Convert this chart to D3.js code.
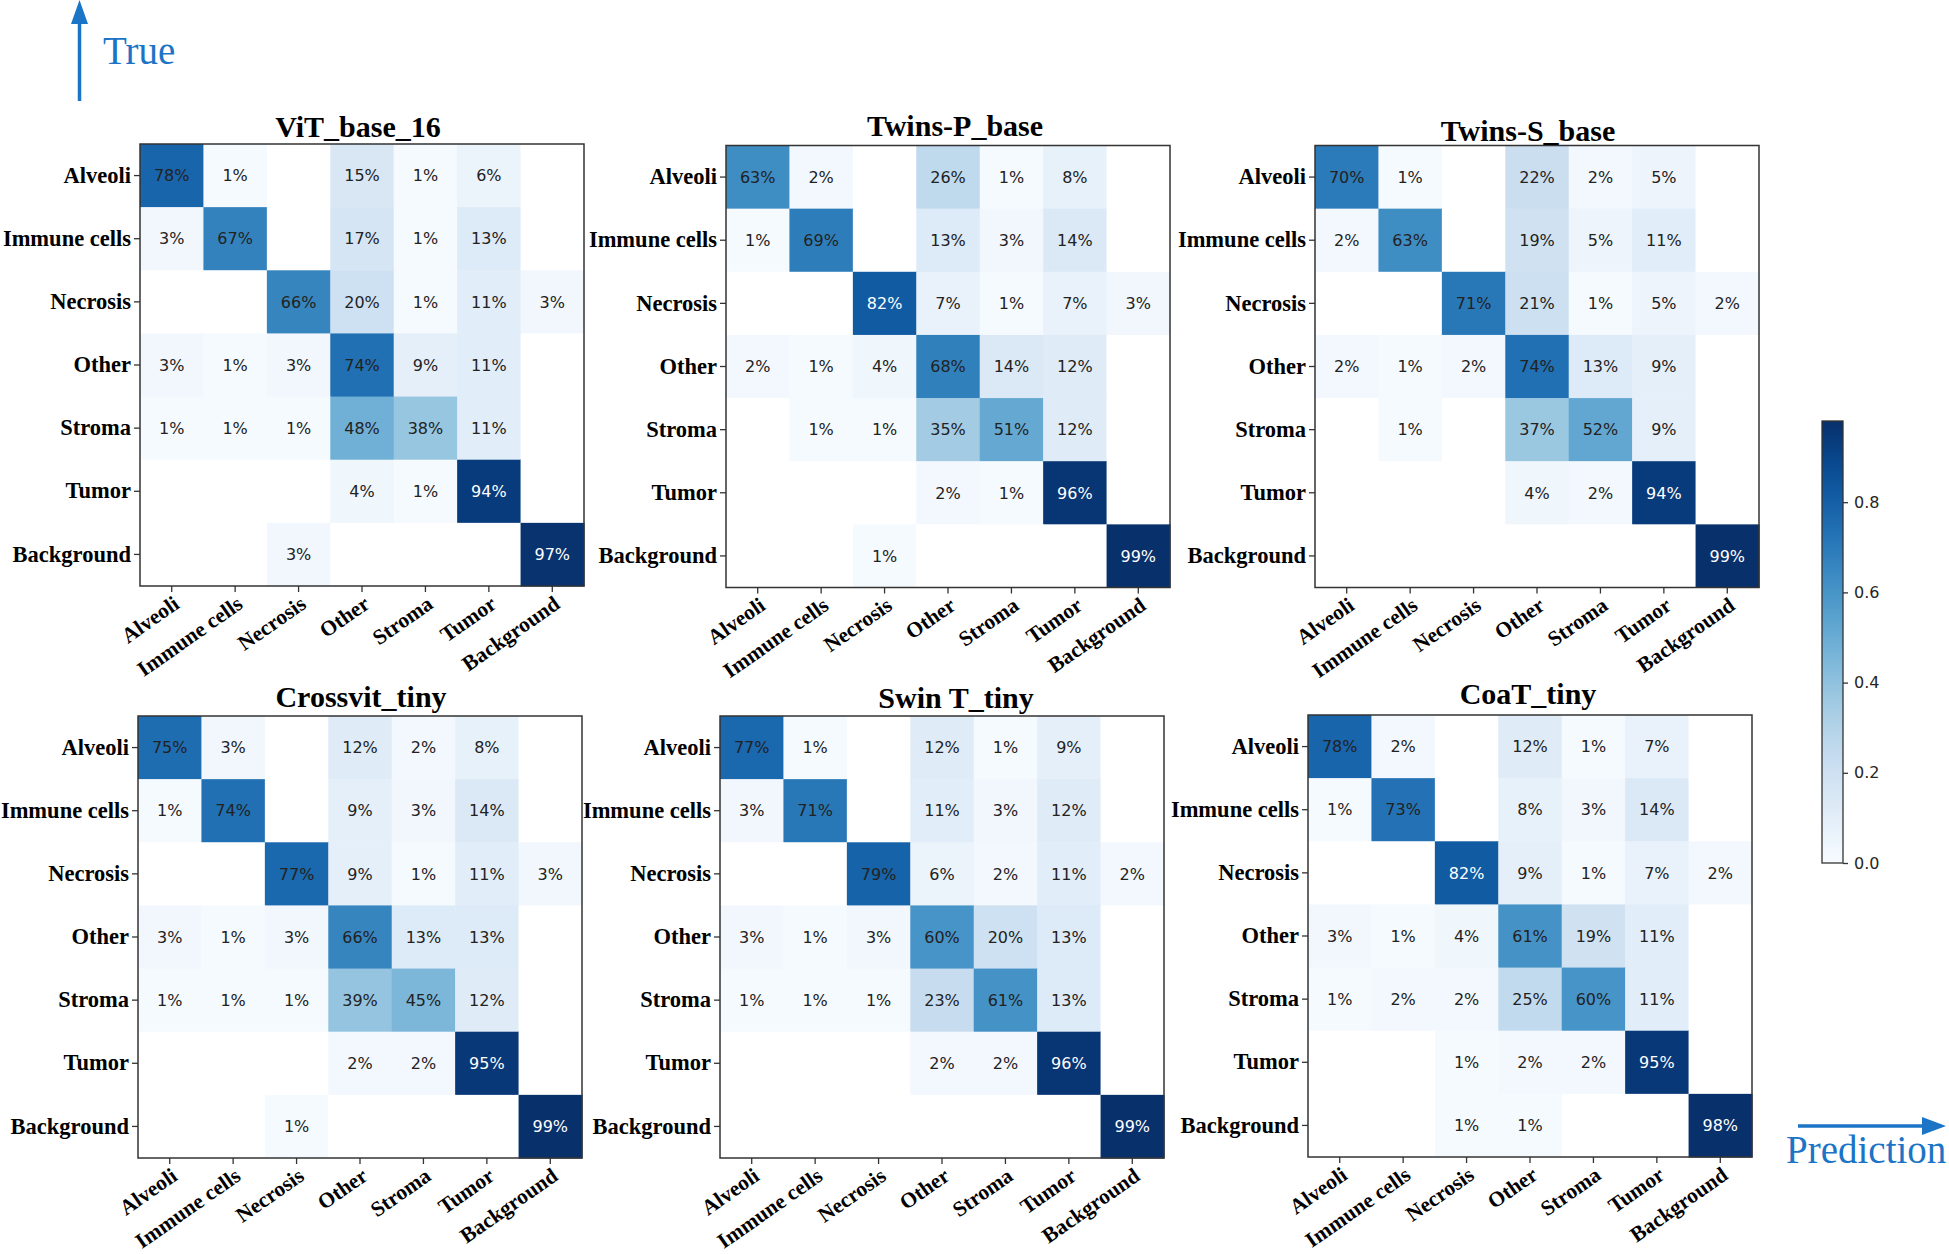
<!DOCTYPE html>
<html>
<head>
<meta charset="utf-8">
<script src="https://cdn.jsdelivr.net/npm/d3@7.9.0/dist/d3.min.js"></script>
<style>
  body { margin: 0; background: #fff; }
  svg { display: block; }
</style>
</head>
<body>
<svg id="chart" width="1949" height="1254"></svg>
<script>
// class names, rows = true label, columns = prediction
const classes = ["Alveoli", "Immune cells", "Necrosis", "Other", "Stroma", "Tumor", "Background"];

const modelNames = ["ViT_base_16", "Twins-P_base", "Twins-S_base", "Crossvit_tiny", "Swin T_tiny", "CoaT_tiny"];

// percentages (0 = blank cell)
const vitBase16 = [
  [78, 1, 0, 15, 1, 6, 0],
  [3, 67, 0, 17, 1, 13, 0],
  [0, 0, 66, 20, 1, 11, 3],
  [3, 1, 3, 74, 9, 11, 0],
  [1, 1, 1, 48, 38, 11, 0],
  [0, 0, 0, 4, 1, 94, 0],
  [0, 0, 3, 0, 0, 0, 97]
];
const twinsPBase = [
  [63, 2, 0, 26, 1, 8, 0],
  [1, 69, 0, 13, 3, 14, 0],
  [0, 0, 82, 7, 1, 7, 3],
  [2, 1, 4, 68, 14, 12, 0],
  [0, 1, 1, 35, 51, 12, 0],
  [0, 0, 0, 2, 1, 96, 0],
  [0, 0, 1, 0, 0, 0, 99]
];
const twinsSBase = [
  [70, 1, 0, 22, 2, 5, 0],
  [2, 63, 0, 19, 5, 11, 0],
  [0, 0, 71, 21, 1, 5, 2],
  [2, 1, 2, 74, 13, 9, 0],
  [0, 1, 0, 37, 52, 9, 0],
  [0, 0, 0, 4, 2, 94, 0],
  [0, 0, 0, 0, 0, 0, 99]
];
const crossvitTiny = [
  [75, 3, 0, 12, 2, 8, 0],
  [1, 74, 0, 9, 3, 14, 0],
  [0, 0, 77, 9, 1, 11, 3],
  [3, 1, 3, 66, 13, 13, 0],
  [1, 1, 1, 39, 45, 12, 0],
  [0, 0, 0, 2, 2, 95, 0],
  [0, 0, 1, 0, 0, 0, 99]
];
const swinTTiny = [
  [77, 1, 0, 12, 1, 9, 0],
  [3, 71, 0, 11, 3, 12, 0],
  [0, 0, 79, 6, 2, 11, 2],
  [3, 1, 3, 60, 20, 13, 0],
  [1, 1, 1, 23, 61, 13, 0],
  [0, 0, 0, 2, 2, 96, 0],
  [0, 0, 0, 0, 0, 0, 99]
];
const coatTiny = [
  [78, 2, 0, 12, 1, 7, 0],
  [1, 73, 0, 8, 3, 14, 0],
  [0, 0, 82, 9, 1, 7, 2],
  [3, 1, 4, 61, 19, 11, 0],
  [1, 2, 2, 25, 60, 11, 0],
  [0, 0, 1, 2, 2, 95, 0],
  [0, 0, 1, 1, 0, 0, 98]
];

const colorbarTicks = [0, 0.2, 0.4, 0.6, 0.8];

// layout: matrix top-left corners, and small title nudges as they sit in the figure
const matrices = [vitBase16, twinsPBase, twinsSBase, crossvitTiny, swinTTiny, coatTiny];
const panelPos = [
  [140, 144], [726, 145.5], [1315, 145.5],
  [138, 716], [720, 716], [1308, 715]
];
const titleShift = [[-4, -7], [7, -10], [-9, -5], [1, -9], [14, -8], [-2, -11]];
const cellW = 444, cellH = 442;
const vmax = 0.98;
const blue = "#1b74c6";
const serif = "'Liberation Serif', 'Times New Roman', serif";

const svg = d3.select("#chart");
svg.append("rect").attr("width", 1949).attr("height", 1254).attr("fill", "#fff");

const color = d3.scaleSequential(d3.interpolateBlues).domain([0, vmax]).clamp(true);
const pct = d3.format(".0%");

matrices.forEach((m, i) => {
  const [px, py] = panelPos[i];
  const g = svg.append("g").attr("transform", `translate(${px},${py})`);

  const x = d3.scaleBand().domain(classes).range([0, cellW]);
  const y = d3.scaleBand().domain(classes).range([0, cellH]);

  const cells = [];
  m.forEach((row, r) => row.forEach((v, c) => cells.push({ r: classes[r], c: classes[c], v: v / 100 })));

  g.selectAll("rect.cell")
    .data(cells)
    .join("rect")
    .attr("class", "cell")
    .attr("x", d => x(d.c))
    .attr("y", d => y(d.r))
    .attr("width", x.bandwidth() + 0.5)
    .attr("height", y.bandwidth() + 0.5)
    .attr("fill", d => d.v === 0 ? "#fff" : color(d.v));

  g.selectAll("text.val")
    .data(cells.filter(d => d.v > 0))
    .join("text")
    .attr("class", "val")
    .attr("x", d => x(d.c) + x.bandwidth() / 2)
    .attr("y", d => y(d.r) + y.bandwidth() / 2)
    .attr("dy", "0.36em")
    .attr("text-anchor", "middle")
    .attr("font-family", "'DejaVu Sans', sans-serif")
    .attr("font-size", 16)
    .attr("fill", d => d.v > 0.8 ? "#fff" : "#222")
    .text(d => pct(d.v));

  // frame
  g.append("rect")
    .attr("width", cellW).attr("height", cellH)
    .attr("fill", "none").attr("stroke", "#333").attr("stroke-width", 1.5);

  // y axis
  const ya = g.append("g").call(d3.axisLeft(y).tickSize(6));
  ya.select(".domain").remove();
  ya.selectAll("line").attr("stroke", "#333").attr("stroke-width", 1.3);
  ya.selectAll("text")
    .attr("font-family", serif)
    .attr("font-weight", "bold")
    .attr("font-size", 22.5)
    .attr("fill", "#000");

  // x axis, labels turned 35 degrees
  const xa = g.append("g").attr("transform", `translate(0,${cellH})`).call(d3.axisBottom(x).tickSize(6));
  xa.select(".domain").remove();
  xa.selectAll("line").attr("stroke", "#333").attr("stroke-width", 1.3);
  xa.selectAll("text")
    .attr("font-family", serif)
    .attr("font-weight", "bold")
    .attr("font-size", 21.5)
    .attr("fill", "#000")
    .attr("x", 0).attr("y", 0).attr("dy", 0)
    .attr("text-anchor", "end")
    .attr("transform", "translate(9,21) rotate(-35)");

  // title
  g.append("text")
    .attr("x", cellW / 2 + titleShift[i][0]).attr("y", titleShift[i][1])
    .attr("text-anchor", "middle")
    .attr("font-family", serif)
    .attr("font-weight", "bold")
    .attr("font-size", 30)
    .text(modelNames[i]);
});

// colorbar
const cbX = 1822, cbTop = 421, cbBottom = 863, cbW = 21;
const cbScale = d3.scaleLinear().domain([0, vmax]).range([cbBottom, cbTop]);
const defs = svg.append("defs");
const grad = defs.append("linearGradient").attr("id", "cbgrad")
  .attr("x1", 0).attr("y1", 1).attr("x2", 0).attr("y2", 0);
grad.selectAll("stop")
  .data(d3.range(0, 1.0001, 0.05))
  .join("stop")
  .attr("offset", d => d)
  .attr("stop-color", d => d3.interpolateBlues(d));
svg.append("rect")
  .attr("x", cbX).attr("y", cbTop).attr("width", cbW).attr("height", cbBottom - cbTop)
  .attr("fill", "url(#cbgrad)").attr("stroke", "#333").attr("stroke-width", 1.3);
const cba = svg.append("g").attr("transform", `translate(${cbX + cbW},0)`)
  .call(d3.axisRight(cbScale).tickValues(colorbarTicks).tickFormat(d3.format(".1f")).tickSize(5).tickPadding(6));
cba.select(".domain").remove();
cba.selectAll("line").attr("stroke", "#333").attr("stroke-width", 1.3);
cba.selectAll("text")
  .attr("font-family", "'DejaVu Sans', sans-serif")
  .attr("font-size", 16)
  .attr("fill", "#262626");

// "True" arrow
svg.append("line").attr("x1", 79.5).attr("y1", 101).attr("x2", 79.5).attr("y2", 20)
  .attr("stroke", blue).attr("stroke-width", 3.5);
svg.append("path").attr("d", "M79.5,0 L71,24 L88,24 Z").attr("fill", blue);
svg.append("text").attr("x", 103).attr("y", 64)
  .attr("font-family", serif)
  .attr("font-size", 39).attr("fill", blue).text("True");

// "Prediction" arrow
svg.append("line").attr("x1", 1798).attr("y1", 1126).attr("x2", 1926).attr("y2", 1126)
  .attr("stroke", blue).attr("stroke-width", 3.5);
svg.append("path").attr("d", "M1946,1126 L1922,1117 L1922,1135 Z").attr("fill", blue);
svg.append("text").attr("x", 1786).attr("y", 1163)
  .attr("font-family", serif)
  .attr("font-size", 39).attr("fill", blue).text("Prediction");
</script>
</body>
</html>
